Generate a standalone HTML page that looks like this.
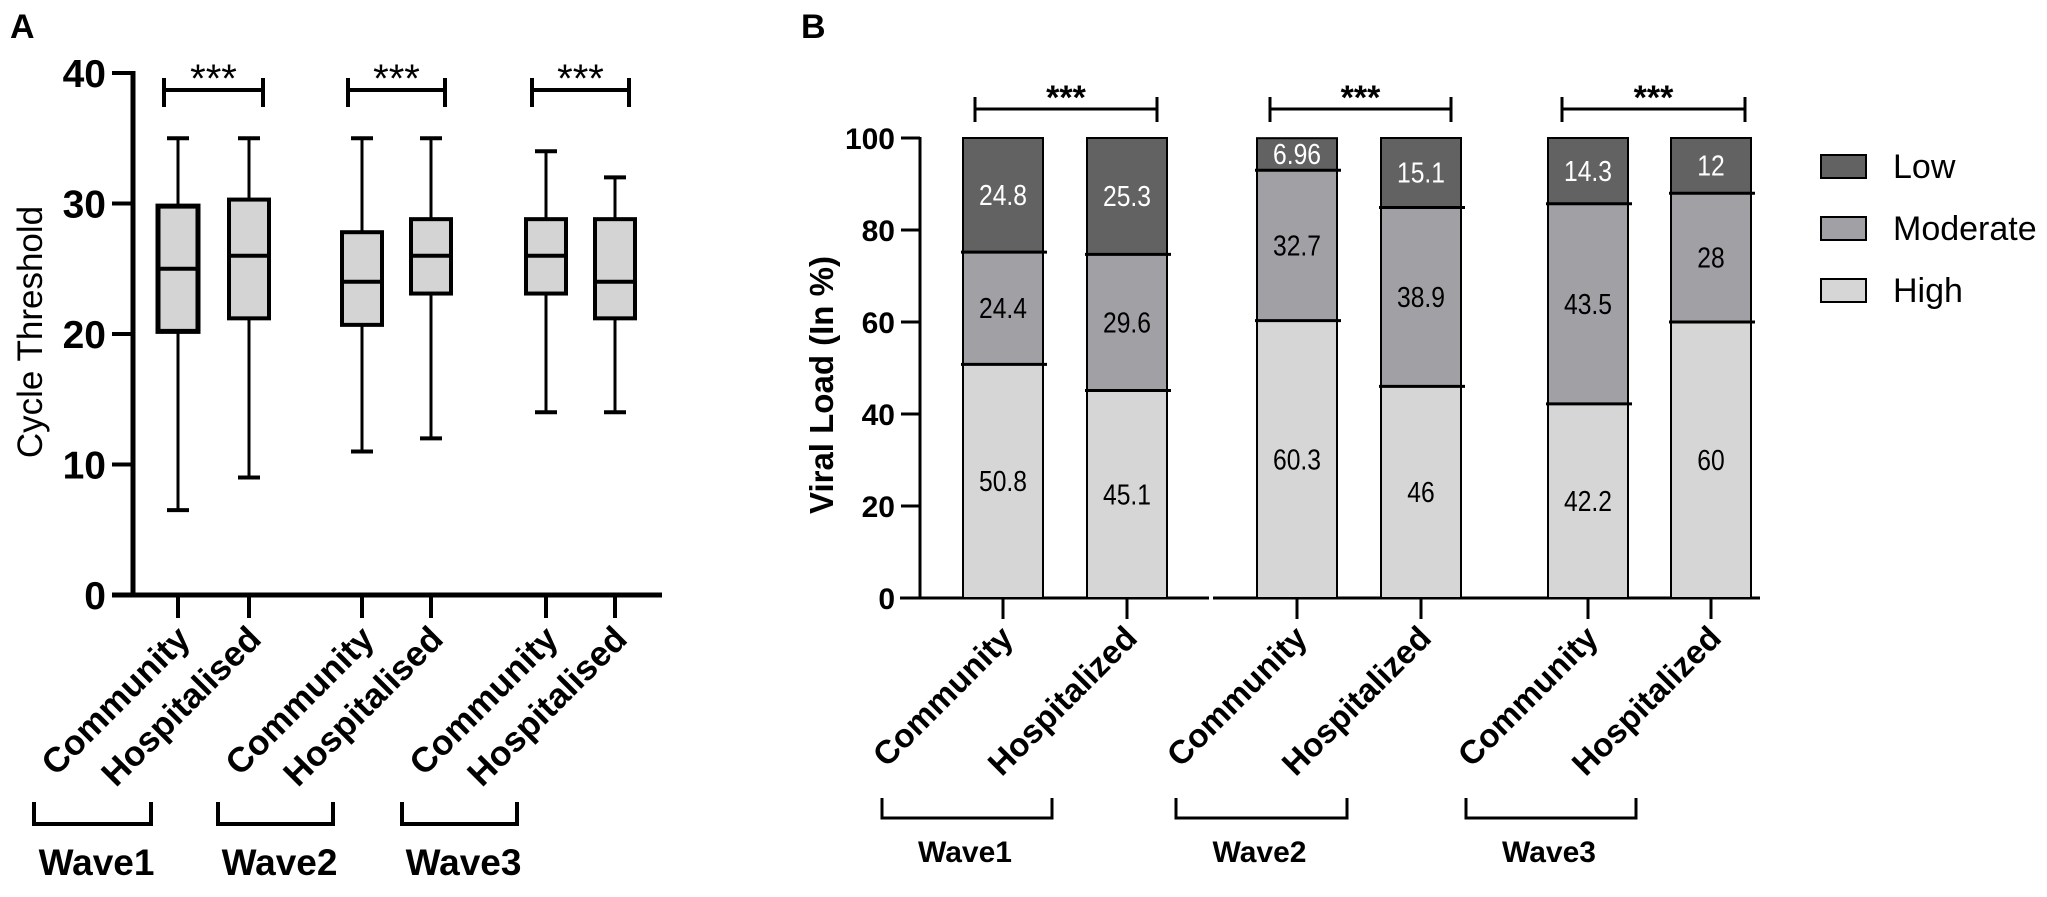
<!DOCTYPE html>
<html><head><meta charset="utf-8">
<style>
html,body{margin:0;padding:0;background:#fff;}
svg{display:block;font-family:"Liberation Sans",Arial,sans-serif;}
.nar{font-family:"Liberation Sans Narrow","Liberation Sans",sans-serif;}
</style></head>
<body>
<svg id="fig" width="2047" height="897" viewBox="0 0 2047 897" xmlns="http://www.w3.org/2000/svg">
  <text x="10" y="38" font-size="34" font-weight="bold">A</text>
  <text x="801" y="38" font-size="34" font-weight="bold">B</text>
  <g id="panelA"></g>
  <g id="panelB"></g>
</svg>
<script>
// ---------- Panel A data ----------
const groupsA = ["Community","Hospitalised","Community","Hospitalised","Community","Hospitalised"];
const minA = [6.5, 9, 11, 12, 14, 14];
const q1A = [20.2, 21.2, 20.7, 23.1, 23.1, 21.2];
const medA = [25, 26, 24, 26, 26, 24];
const q3A = [29.8, 30.3, 27.8, 28.8, 28.8, 28.8];
const maxA = [35, 35, 35, 35, 34, 32];
const ticksA = [0, 10, 20, 30, 40];
const wavesA = ["Wave1","Wave2","Wave3"];

// ---------- Panel B data ----------
const groupsB = ["Community","Hospitalized","Community","Hospitalized","Community","Hospitalized"];
const highB = [50.8, 45.1, 60.3, 46, 42.2, 60];
const moderateB = [24.4, 29.6, 32.7, 38.9, 43.5, 28];
const lowB = [24.8, 25.3, 6.96, 15.1, 14.3, 12];
const ticksB = [0, 20, 40, 60, 80, 100];
const wavesB = ["Wave1","Wave2","Wave3"];
const legendB = ["Low","Moderate","High"];

const NS = "http://www.w3.org/2000/svg";
function mk(parent, tag, attrs, text){
  const e = document.createElementNS(NS, tag);
  for (const k in attrs) e.setAttribute(k, attrs[k]);
  if (text !== undefined) e.textContent = text;
  parent.appendChild(e);
  return e;
}

// ================= Panel A =================
(function(){
  const g = document.getElementById("panelA");
  const y = v => 595 - v * 13.05;
  const xPos = i => [178, 249, 362, 431, 546, 615][i];
  let e = mk(g, "line", {x1:133, y1:y(40)-2, x2:133, y2:597, stroke:"#000","stroke-width":5});
  
  
  e = mk(g, "line", {x1:112, y1:595, x2:662, y2:595, stroke:"#000","stroke-width":5});
  
  
  ticksA.forEach(t => {
    const tl = mk(g, "line", {x1:112, y1:y(t), x2:133, y2:y(t), stroke:"#000","stroke-width":4});
    
    
    const tx = mk(g, "text", {x:106, y:y(t)+14, "font-size":39, "font-weight":"bold", "text-anchor":"end"}, String(t));
    
    
  });
  e = mk(g, "text", {x:0, y:0, "font-size":35, "text-anchor":"middle", transform:"translate(42,332) rotate(-90)"}, "Cycle Threshold");
  
  

  groupsA.forEach((name, i) => {
    const cx = xPos(i);
    const w = 40, lw = i === 0 ? 5 : 4;
    const bx = mk(g, "g", {});
    
    
    mk(bx, "line", {x1:cx, y1:y(maxA[i]), x2:cx, y2:y(q3A[i]), stroke:"#000","stroke-width":3});
    mk(bx, "line", {x1:cx, y1:y(q1A[i]), x2:cx, y2:y(minA[i]), stroke:"#000","stroke-width":3});
    mk(bx, "line", {x1:cx-11, y1:y(maxA[i]), x2:cx+11, y2:y(maxA[i]), stroke:"#000","stroke-width":4});
    mk(bx, "line", {x1:cx-11, y1:y(minA[i]), x2:cx+11, y2:y(minA[i]), stroke:"#000","stroke-width":4});
    mk(bx, "rect", {x:cx-w/2, y:y(q3A[i]), width:w, height:y(q1A[i])-y(q3A[i]), fill:"#d4d4d4", stroke:"#000","stroke-width":lw});
    mk(bx, "line", {x1:cx-w/2, y1:y(medA[i]), x2:cx+w/2, y2:y(medA[i]), stroke:"#000","stroke-width":4});
    const tk = mk(g, "line", {x1:cx, y1:595, x2:cx, y2:618, stroke:"#000","stroke-width":4});
    
    
    const lb = mk(g, "text", {x:0, y:0, "font-size":35, "font-weight":"bold", "text-anchor":"end", transform:"translate(" + (cx+14) + ",641) rotate(-45)"}, name);
    
    
  });

  wavesA.forEach((wv, k) => {
    const a = xPos(2*k), b = xPos(2*k+1);
    const l = a - 14, r = b + 14;
    const br = mk(g, "path", {d:"M"+l+" 78 V107 M"+r+" 78 V107 M"+l+" 90 H"+r, stroke:"#000","stroke-width":4, fill:"none"});
    
    
    const st = mk(g, "text", {x:(l+r)/2, y:92, "font-size":40, "text-anchor":"middle"}, "***");
    
    
    const bx0 = a - 144, bx1 = b - 98;
    const wb = mk(g, "path", {d:"M"+bx0+" 802 V824 H"+bx1+" V802", stroke:"#000","stroke-width":4, fill:"none"});
    
    
    const wt = mk(g, "text", {x:(bx0+bx1)/2+4, y:875, "font-size":37, "font-weight":"bold", "text-anchor":"middle"}, wv);
    
    
  });
})();

// ================= Panel B =================
(function(){
  const g = document.getElementById("panelB");
  const y = v => 598 - v * 4.6;
  const xPos = i => [1003, 1127, 1297, 1421, 1588, 1711][i];
  const bw = 80;
  let e = mk(g, "line", {x1:920, y1:y(100)-1, x2:920, y2:599, stroke:"#000","stroke-width":3});
  
  
  e = mk(g, "path", {d:"M900 598 H1209 M1213 598 H1760", stroke:"#000","stroke-width":3});
  
  
  ticksB.forEach(t => {
    const tl = mk(g, "line", {x1:901, y1:y(t), x2:920, y2:y(t), stroke:"#000","stroke-width":3});
    
    
    const tx = mk(g, "text", {x:895, y:y(t)+11, "font-size":30, "font-weight":"bold", "text-anchor":"end"}, String(t));
    
    
  });
  e = mk(g, "text", {x:0, y:0, "font-size":33, "font-weight":"bold", "text-anchor":"middle", transform:"translate(833,385) rotate(-90)"}, "Viral Load (In %)");
  
  

  const cols = {high:"#d6d6d6", mod:"#a1a1a5", low:"#626262"};
  groupsB.forEach((name, i) => {
    const cx = xPos(i), x0 = cx - bw/2;
    const h0 = 0, h1 = highB[i], m1 = h1 + moderateB[i], l1 = m1 + lowB[i];
    const segs = [[h0,h1,cols.high,"#000",highB[i],"high"],[h1,m1,cols.mod,"#000",moderateB[i],"moderate"],[m1,l1,cols.low,"#fff",lowB[i],"low"]];
    segs.forEach(s => {
      const r = mk(g, "rect", {x:x0, y:y(s[1]), width:bw, height:y(s[0])-y(s[1]), fill:s[2], stroke:"#000","stroke-width":2});
      
      
      const ty = (y(s[0])+y(s[1]))/2+10;
      const t = mk(g, "text", {x:0, y:0, "font-size":29, "text-anchor":"middle", fill:s[3], "class":"nar", transform:"translate("+cx+","+ty+") scale(0.85,1)"}, String(s[4]));
      
      
    });
    mk(g, "line", {x1:x0-2, y1:y(h1), x2:x0+bw+4, y2:y(h1), stroke:"#000","stroke-width":3});
    mk(g, "line", {x1:x0-2, y1:y(m1), x2:x0+bw+4, y2:y(m1), stroke:"#000","stroke-width":3});
    const tk = mk(g, "line", {x1:cx, y1:598, x2:cx, y2:619, stroke:"#000","stroke-width":3});
    
    
    const lb = mk(g, "text", {x:0, y:0, "font-size":33, "font-weight":"bold", "text-anchor":"end", transform:"translate(" + (cx+12) + ",640) rotate(-45)"}, name);
    
    
  });

  const brk = [[975,1157],[1270,1451],[1562,1745]];
  const wbk = [[882,1052],[1176,1347],[1466,1636]];
  wavesB.forEach((wv, k) => {
    const l = brk[k][0], r = brk[k][1];
    const br = mk(g, "path", {d:"M"+l+" 97 V122 M"+r+" 97 V122 M"+l+" 109 H"+r, stroke:"#000","stroke-width":3, fill:"none"});
    
    
    const st = mk(g, "text", {x:(l+r)/2, y:109, "font-size":34, "font-weight":"bold", "text-anchor":"middle"}, "***");
    
    
    const a = wbk[k][0], b = wbk[k][1];
    const wb = mk(g, "path", {d:"M"+a+" 798 V818 H"+b+" V798", stroke:"#000","stroke-width":3, fill:"none"});
    
    
    const wt = mk(g, "text", {x:(a+b)/2-2, y:862, "font-size":30, "font-weight":"bold", "text-anchor":"middle"}, wv);
    
    
  });

  const legCols = [cols.low, cols.mod, cols.high];
  const legY = [155, 217, 279];
  legendB.forEach((lab, k) => {
    const lg = mk(g, "g", {});
    
    
    mk(lg, "rect", {x:1821, y:legY[k], width:45, height:23, fill:legCols[k], stroke:"#000","stroke-width":2});
    mk(lg, "text", {x:1893, y:legY[k]+23, "font-size":34}, lab);
  });
})();
</script>
</body></html>
